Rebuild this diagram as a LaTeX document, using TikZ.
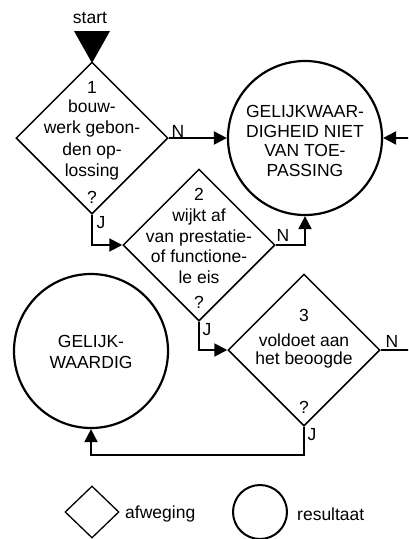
\documentclass[tikz,border=0pt]{standalone}
\usepackage{fontspec}
\setmainfont{Liberation Sans}
\usetikzlibrary{shapes.geometric,arrows.meta}
\begin{document}
\begin{tikzpicture}[x=1pt,y=-1pt,
  dec/.style={draw,diamond,line width=1.5pt,minimum width=152pt,minimum height=152pt,inner sep=0pt},
  res/.style={draw,circle,line width=2.2pt,minimum size=154pt,inner sep=0pt},
  txt/.style={font=\fontsize{17.5}{20.5}\selectfont,align=center,inner sep=0pt},
  conn/.style={line width=2pt,-{Triangle[length=13pt,width=13pt]}},
]
\clip (0,0) rectangle (408,539);
\fill[white] (0,0) rectangle (408,539);
% start
\node[txt] (start) at (90,18) {start};
\fill (74,31) -- (110,31) -- (92,63) -- cycle;
% shapes
\node[dec] (d1) at (92,138) {};
\node[res] (c1) at (305,138) {};
\node[dec] (d2) at (199,245) {};
\node[dec] (d3) at (304,350) {};
\node[res] (c2) at (91,351) {};
% texts
\node[txt] (t1n) at (92,87) {1};
\node[txt,font=\fontsize{17.5}{21.5}\selectfont] (t1) at (92,140) {bouw-\\werk gebon-\\den op-\\lossing};
\node[txt] (t1q) at (92,197) {?};
\node[txt] (t2n) at (199,194) {2};
\node[txt] (t2) at (199,246) {wijkt af\\van prestatie-\\of functione-\\le eis};
\node[txt] (t2q) at (199,302) {?};
\node[txt] (t3n) at (304,315) {3};
\node[txt,font=\fontsize{17.5}{18.5}\selectfont] (t3) at (304,351) {voldoet aan\\het beoogde};
\node[txt] (t3q) at (304,407) {?};
\node[txt,font=\fontsize{17.5}{19.5}\selectfont] (tc1) at (305,141) {GELIJKWAAR-\\DIGHEID NIET\\VAN TOE-\\PASSING};
\node[txt] (tc2) at (91,352) {GELIJK-\\WAARDIG};
% connectors
\draw[conn] (d1.east) -- (c1.west);
\draw[conn] (d1.south) |- (d2.west);
\draw[conn] (d2.east) -| (c1.south);
\draw[conn] (d2.south) |- (d3.west);
\draw[conn] (d3.south) -- ++(0,28) -| (c2.south);
\draw[conn] (d3.east) -- ++(50,0) |- (c1.east);
% labels
\node[txt] (n1) at (178,131) {N};
\node[txt] (j1) at (101,223) {J};
\node[txt] (n2) at (283,235) {N};
\node[txt] (j2) at (207,330) {J};
\node[txt] (n3) at (392,341) {N};
\node[txt] (j3) at (312,435) {J};
% legend
\node[draw,diamond,line width=1.3pt,minimum width=54pt,minimum height=52pt,inner sep=0pt] (ld) at (92,512) {};
\node[txt,anchor=west] (lt1) at (125,514) {afweging};
\node[draw,circle,line width=2pt,minimum size=54pt,inner sep=0pt] (lc) at (260,512) {};
\node[txt,anchor=west] (lt2) at (297,514) {resultaat};
\end{tikzpicture}
\end{document}
